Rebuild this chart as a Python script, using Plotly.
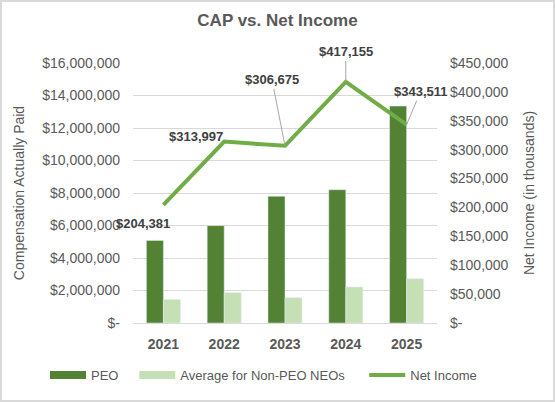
import plotly.graph_objects as go

years = ['2021', '2022', '2023', '2024', '2025']
peo = [5080000, 5990000, 7800000, 8200000, 13350000]
non_peo = [1450000, 1870000, 1560000, 2220000, 2730000]
net_income = [204381, 313997, 306675, 417155, 343511]

left_ticks = [0, 2000000, 4000000, 6000000, 8000000, 10000000, 12000000, 14000000, 16000000]
left_text = ['$-', '$2,000,000', '$4,000,000', '$6,000,000', '$8,000,000',
             '$10,000,000', '$12,000,000', '$14,000,000', '$16,000,000']
right_ticks = [0, 50000, 100000, 150000, 200000, 250000, 300000, 350000, 400000, 450000]
right_text = ['$-', '$50,000', '$100,000', '$150,000', '$200,000', '$250,000',
              '$300,000', '$350,000', '$400,000', '$450,000']

grey = '#595959'
fnt = 'Arial, Liberation Sans, sans-serif'
c_peo, c_neo, c_ni = '#548235', '#C5E0B4', '#70AD47'

fig = go.Figure()
fig.add_trace(go.Bar(x=years, y=peo, name='PEO', marker_color=c_peo, showlegend=False))
fig.add_trace(go.Bar(x=years, y=non_peo, name='Average for Non-PEO NEOs', marker_color=c_neo,
                     showlegend=False))
fig.add_trace(go.Scatter(x=years, y=net_income, name='Net Income', yaxis='y2',
                         mode='lines', line=dict(color=c_ni, width=4), showlegend=False))

# legend entries drawn Excel-style (wide strips); nbsp padding widens the gaps
nb = '\u00a0'
for nm, col, w in [('PEO' + nb * 3, c_peo, 8), ('Average for Non-PEO NEOs' + nb * 4, c_neo, 8),
                   ('Net Income', c_ni, 4)]:
    fig.add_trace(go.Scatter(x=[None], y=[None], mode='lines', name=nm,
                             line=dict(color=col, width=w)))

# label placement, pixel offsets from each point (dy > 0 = up): shift-only or leader line
offsets = [(-20, -19, False), (-28, 5, False), (-13, 66, True), (0, 30, True), (14, 33, True)]
for i, (v, (dx, dy, line)) in enumerate(zip(net_income, offsets)):
    txt = '<b>$' + format(v, ',') + '</b>'
    if line:
        fig.add_annotation(x=i, y=v, xref='x', yref='y2', text=txt, showarrow=True,
                           arrowhead=0, arrowwidth=1, arrowcolor='#A6A6A6',
                           ax=dx, ay=-dy, font=dict(size=13, color='#404040', family=fnt))
    else:
        fig.add_annotation(x=i, y=v, xref='x', yref='y2', text=txt, showarrow=False,
                           xshift=dx, yshift=dy, font=dict(size=13, color='#404040', family=fnt))

L, R, T, B = 133, 118, 63, 79
pw, ph = 555 - L - R, 402 - T - B
fig.add_shape(type='rect', xref='paper', yref='paper',
              x0=(1 - L) / pw, x1=(554 - L) / pw, y0=-(B - 1) / ph, y1=1 + (T - 1) / ph,
              line=dict(color='#D9D9D9', width=2))

fig.update_layout(
    width=555, height=402,
    margin=dict(l=L, r=R, t=T, b=B),
    paper_bgcolor='white', plot_bgcolor='white',
    font=dict(family=fnt, size=14, color=grey),
    title=dict(text='<b>CAP vs. Net Income</b>', x=0.5, xanchor='center', y=0.95, yanchor='middle',
               font=dict(size=17, color=grey)),
    barmode='group', bargap=0.44, bargroupgap=0,
    showlegend=True,
    legend=dict(orientation='h', x=(45 - L) / pw, xanchor='left', y=-52 / ph, yanchor='middle',
                itemwidth=36, font=dict(size=13, color=grey), traceorder='normal'),
    xaxis=dict(type='category', range=[-0.5, 4.5], autorange=False, automargin=False,
               tickfont=dict(size=14, color=grey, family=fnt),
               tickprefix='<b>', ticksuffix='</b>', ticklabelstandoff=8,
               showline=True, linecolor='#D9D9D9', ticks=''),
    yaxis=dict(title=dict(text='Compensation Actually Paid', font=dict(size=14, color=grey), standoff=14),
               range=[0, 16000000], autorange=False, automargin=False,
               tickvals=left_ticks, ticktext=left_text, tickfont=dict(size=14),
               showgrid=True, gridcolor='#D9D9D9', zeroline=False, ticklabelstandoff=12),
    yaxis2=dict(title=dict(text='Net Income (in thousands)', font=dict(size=14, color=grey), standoff=16),
                overlaying='y', side='right', range=[0, 450000], autorange=False, automargin=False,
                tickvals=right_ticks, ticktext=right_text, tickfont=dict(size=14),
                showgrid=False, zeroline=False, ticklabelstandoff=12),
)

fig.write_html('out.html', config={'displayModeBar': False},
               post_script="document.body.style.margin='0';")
